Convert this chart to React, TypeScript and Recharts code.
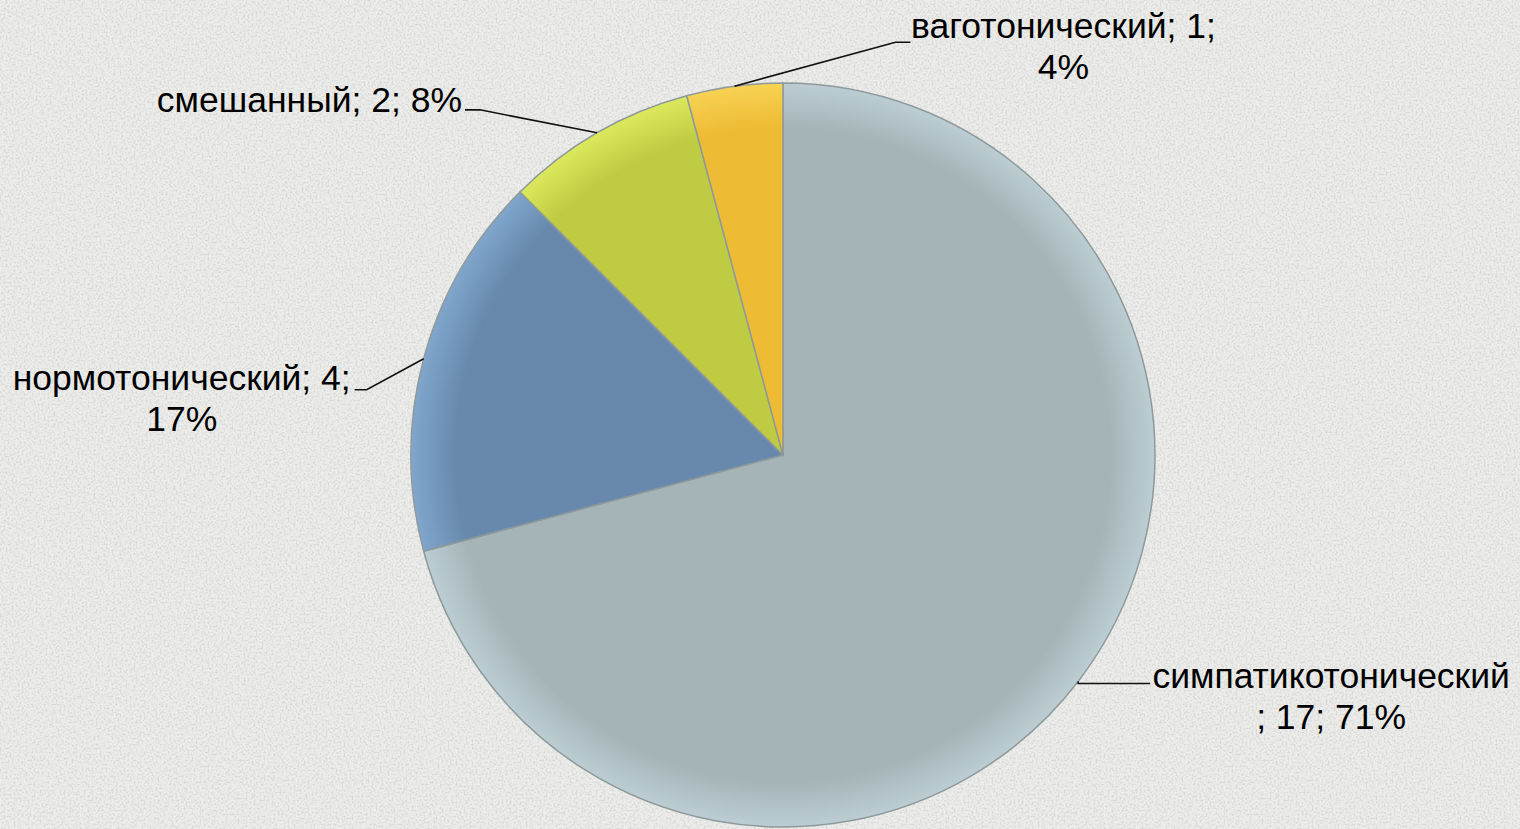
import React from 'react';
import { PieChart, Pie, Cell } from 'recharts';

// Типы вегетативной регуляции
const categories = ['симпатикотонический', 'нормотонический', 'смешанный', 'ваготонический'];
const counts = [17, 4, 2, 1];

const data = categories.map((name, i) => ({ name, value: counts[i] }));

// цвета: центр / край (радиальный градиент)
const innerColors = ['#a5b4b7', '#6889ad', '#bfcb42', '#eebb34'];
const outerColors = ['#bccdd3', '#80a6cd', '#dce95c', '#f7d254'];

// размещение подписей: излом линии (от точки на краю), конец линии, текст
type LabelLayout = {
  elbow: [number, number];
  tail: number;
  textX: number;
  textY: number;
  anchor: 'start' | 'middle' | 'end';
  wrap: 'none' | 'beforePct' | 'afterName';
};
const labelLayout: LabelLayout[] = [
  { elbow: [0, 2], tail: 72, textX: 181, textY: 5, anchor: 'middle', wrap: 'afterName' },
  { elbow: [-57, 31], tail: -12, textX: -173, textY: 0, anchor: 'middle', wrap: 'beforePct' },
  { elbow: [-117, -23], tail: -15, textX: -3, textY: 2, anchor: 'end', wrap: 'none' },
  { elbow: [161, -44], tail: 15, textX: 153, textY: -4, anchor: 'middle', wrap: 'beforePct' },
];

const CX = 783;
const CY = 455;
const R = 372;
const RADIAN = Math.PI / 180;
const LINE_H = 41;

const renderLabel = (props: any) => {
  const { cx, cy, midAngle, outerRadius, index, value, percent, name } = props;
  const lay = labelLayout[index];
  const x0 = cx + outerRadius * Math.cos(-midAngle * RADIAN);
  const y0 = cy + outerRadius * Math.sin(-midAngle * RADIAN);
  const x1 = x0 + lay.elbow[0];
  const y1 = y0 + lay.elbow[1];
  const x2 = x1 + lay.tail;
  const pct = Math.round(percent * 100);

  let lines: string[];
  if (lay.wrap === 'beforePct') lines = [`${name}; ${value};`, `${pct}%`];
  else if (lay.wrap === 'afterName') lines = [name, `; ${value}; ${pct}%`];
  else lines = [`${name}; ${value}; ${pct}%`];

  return (
    <g key={`label-${index}`}>
      <polyline
        points={`${x0},${y0} ${x1},${y1} ${x2},${y1}`}
        fill="none"
        stroke="#111"
        strokeWidth={1.6}
      />
      <text
        x={x2 + lay.textX}
        y={y1 + lay.textY}
        textAnchor={lay.anchor}
        fill="#000"
        style={{ fontFamily: '"Liberation Sans", Arial, sans-serif', fontSize: 35.5 }}
      >
        {lines.map((t, i) => (
          <tspan key={i} x={x2 + lay.textX} dy={i === 0 ? 0 : LINE_H}>
            {t}
          </tspan>
        ))}
      </text>
    </g>
  );
};

export default function App() {
  return (
    <div
      style={{
        position: 'absolute',
        left: 0,
        top: 0,
        width: 1520,
        height: 829,
        overflow: 'hidden',
        background: '#e7e7e5',
      }}
    >
      <svg width={1520} height={829} style={{ position: 'absolute', left: 0, top: 0 }}>
        <filter id="grain" x="0" y="0" width="100%" height="100%">
          <feTurbulence type="fractalNoise" baseFrequency="0.5" numOctaves={3} seed={4} />
          <feColorMatrix
            type="matrix"
            values="0 0 0 0 0.6  0 0 0 0 0.6  0 0 0 0 0.58  3.2 0 0 0 -1.35"
          />
        </filter>
        <rect width="100%" height="100%" fill="#ededeb" />
        <rect width="100%" height="100%" filter="url(#grain)" opacity={0.6} />
      </svg>
      <div style={{ position: 'absolute', left: 0, top: 0 }}>
        <PieChart width={1520} height={829} margin={{ top: 0, right: 0, bottom: 0, left: 0 }}>
          <defs>
            {innerColors.map((c, i) => (
              <radialGradient
                key={i}
                id={`slice-${i}`}
                gradientUnits="userSpaceOnUse"
                cx={CX}
                cy={CY}
                r={R}
              >
                <stop offset="0%" stopColor={c} />
                <stop offset="88%" stopColor={c} />
                <stop offset="100%" stopColor={outerColors[i]} />
              </radialGradient>
            ))}
          </defs>
          <Pie
            data={data}
            dataKey="value"
            nameKey="name"
            cx={CX}
            cy={CY}
            outerRadius={R}
            startAngle={90}
            endAngle={-270}
            label={renderLabel}
            labelLine={false}
            isAnimationActive={false}
          >
            {data.map((_, i) => (
              <Cell key={`cell-${i}`} fill={`url(#slice-${i})`} stroke="#8e9a9a" strokeWidth={1.5} />
            ))}
          </Pie>
        </PieChart>
      </div>
    </div>
  );
}
